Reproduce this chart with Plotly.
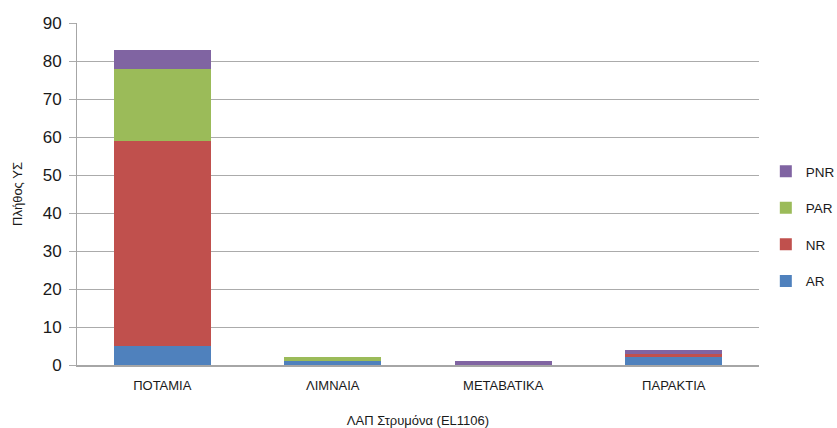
import plotly.graph_objects as go

categories = ["ΠΟΤΑΜΙΑ", "ΛΙΜΝΑΙΑ", "ΜΕΤΑΒΑΤΙΚΑ", "ΠΑΡΑΚΤΙΑ"]
AR = [5, 1, 0, 2]
NR = [54, 0, 0, 1]
PAR = [19, 1, 0, 0]
PNR = [5, 0, 1, 1]

series = [("AR", AR, "#4F81BD", 4), ("NR", NR, "#C0504D", 3),
          ("PAR", PAR, "#9BBB59", 2), ("PNR", PNR, "#8064A2", 1)]

fig = go.Figure()
for name, vals, col, rank in series:
    fig.add_trace(go.Bar(x=categories, y=vals, name=name, marker_color=col,
                         marker_line_width=0, width=0.57, legendgroup=name,
                         legendrank=rank))

fig.update_layout(
    barmode="stack",
    width=837, height=428,
    margin=dict(l=77, r=78, t=23, b=63, autoexpand=False),
    plot_bgcolor="white", paper_bgcolor="white",
    font=dict(family="Liberation Sans, Arial", color="#1a1a1a"),
    legend=dict(traceorder="grouped", x=1.01, y=0.405, yanchor="middle",
                font=dict(size=13.5), itemwidth=30, tracegroupgap=16),
    xaxis=dict(title=dict(text="ΛΑΠ Στρυμόνα (EL1106)", font=dict(size=13), standoff=24),
               tickfont=dict(size=13), showline=True, linecolor="#a6a6a6", linewidth=1.5,
               ticks="", automargin=False, ticklabelstandoff=8),
    yaxis=dict(title=dict(text="Πλήθος ΥΣ", font=dict(size=13), standoff=17),
               range=[0, 90.05], tickvals=[0, 10, 20, 30, 40, 50, 60, 70, 80, 90],
               tickfont=dict(size=17), gridcolor="#ababab", gridwidth=1, zeroline=False,
               showline=True, linecolor="#a6a6a6", linewidth=1,
               ticks="outside", ticklen=7, tickcolor="#ababab",
               automargin=False, ticklabelstandoff=4),
)
fig.write_html("out.html", config={"displayModeBar": False},
               post_script="document.body.style.margin='0';document.body.style.overflow='hidden';")
